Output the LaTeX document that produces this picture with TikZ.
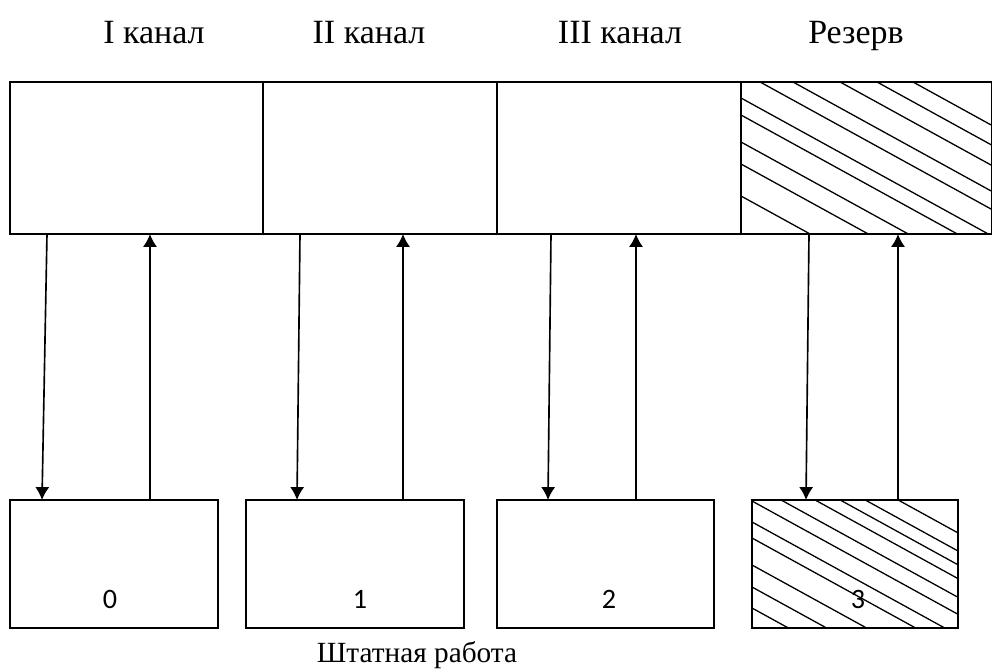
\documentclass[tikz,border=0pt]{standalone}
\usepackage{fontspec}
\setmainfont{Liberation Serif}
\newfontfamily\digitfont{Carlito}
\usetikzlibrary{arrows.meta,calc}
\tikzset{>={Latex[length=11pt,width=12pt]}}

\begin{document}
\begin{tikzpicture}[x=0.03cm,y=-0.03cm,line width=1.4pt,
    cell/.style={draw,rectangle,inner sep=0pt,outer sep=0pt,minimum height=4.56cm},
    unit/.style={draw,rectangle,inner sep=0pt,outer sep=0pt,minimum height=3.84cm},
    chan/.style={anchor=base,font=\fontsize{29}{33}\selectfont},
    hatch/.style={line width=1.1pt}]
  \useasboundingbox (0,0) rectangle (992,671);
  % channel labels
  \node (l1) [chan] at (154,43) {I канал};
  \node (l2) [chan] at (369,43) {II канал};
  \node (l3) [chan] at (620,43) {III канал};
  \node (l4) [chan] at (856,43) {Резерв};
  % channel band
  \node (t1) at (136.5,158) [cell, minimum width=7.59cm]{};
  \node (t2) at (380,158) [cell, minimum width=7.02cm]{};
  \node (t3) at (619,158) [cell, minimum width=7.32cm]{};
  \node (t4) at (866.5,158) [cell, minimum width=7.53cm]{};
  % units
  \node (b1) at (114,564) [unit, minimum width=6.24cm]{};
  \node (b2) at (355,564) [unit, minimum width=6.54cm]{};
  \node (b3) at (605.5,564) [unit, minimum width=6.51cm]{};
  \node (b4) at (855,564) [unit, minimum width=6.18cm]{};
  % hatching of the reserve
  \begin{scope}
    \clip (t4.north west) rectangle (t4.south east);
    \foreach \y in {-12.6,7.2,27.5,53.4,71.5,98,115,142,164,196}
      \draw[hatch] (741,\y) -- ++(300,165);
  \end{scope}
  \begin{scope}
    \clip (b4.north west) rectangle (b4.south east);
    \foreach \y in {419.6,437.7,451.5,465.3,484,501,522,538,565,587,608}
      \draw[hatch] (752,\y) -- ++(300,165);
  \end{scope}
  \node (n0) at (110,599) {\digitfont\fontsize{24}{28}\selectfont 0};
  \node (n1) at (360,599) {\digitfont\fontsize{24}{28}\selectfont 1};
  \node (n2) at (609,599) {\digitfont\fontsize{24}{28}\selectfont 2};
  \node (n3) at (858,599) {\digitfont\fontsize{24}{28}\selectfont 3};
  % requests and answers
  \draw[->] ($(t1.south west)+(37,0)$) -- ($(b1.north west)+(32,0)$);
  \draw[->] ($(b1.north west)+(140,0)$) -- ($(t1.south west)+(140,0)$);
  \draw[->] ($(t2.south west)+(37,0)$) -- ($(b2.north west)+(51,0)$);
  \draw[->] ($(b2.north west)+(157,0)$) -- ($(t2.south west)+(140,0)$);
  \draw[->] ($(t3.south west)+(54,0)$) -- ($(b3.north west)+(51,0)$);
  \draw[->] ($(b3.north west)+(139,0)$) -- ($(t3.south west)+(139,0)$);
  \draw[->] ($(t4.south west)+(68,0)$) -- ($(b4.north west)+(54,0)$);
  \draw[->] ($(b4.north west)+(146,0)$) -- ($(t4.south west)+(157,0)$);
  \node (cap) [anchor=base] at (417,662) {\fontsize{25}{29}\selectfont Штатная работа};
\end{tikzpicture}
\end{document}
